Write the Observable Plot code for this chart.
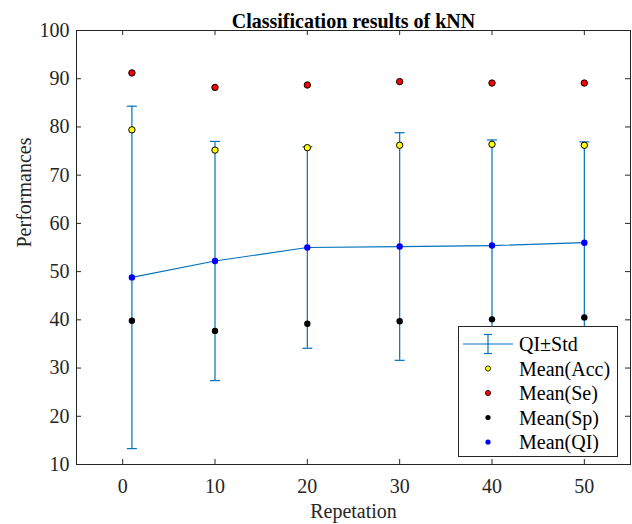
<!DOCTYPE html>
<html><head><meta charset="utf-8">
<script src="https://cdn.jsdelivr.net/npm/d3@7"></script>
<script src="https://cdn.jsdelivr.net/npm/@observablehq/plot@0.6"></script>
<style>
body{margin:0;background:#fff;}
#chart{position:relative;width:632px;height:524px;font-family:"Liberation Serif","Times New Roman",serif;}
#legend{position:absolute;left:458px;top:326px;}
</style>
</head><body><div id="chart"></div>
<script>
const repetitions = [1, 10, 20, 30, 40, 50];
const meanQI  = [48.8, 52.2, 55.0, 55.2, 55.4, 56.0];
const stdQI   = [35.5, 24.8, 20.9, 23.6, 21.9, 20.9];
const meanAcc = [79.4, 75.2, 75.7, 76.2, 76.4, 76.2];
const meanSe  = [91.2, 88.2, 88.7, 89.4, 89.1, 89.1];
const meanSp  = [39.8, 37.7, 39.2, 39.7, 40.1, 40.5];
const xTicks = [0, 10, 20, 30, 40, 50];
const yTicks = [10, 20, 30, 40, 50, 60, 70, 80, 90, 100];
const titleText = "Classification results of kNN";
const xLabel = "Repetation";
const yLabel = "Performances";
const legendLabels = ["QI\u00B1Std", "Mean(Acc)", "Mean(Se)", "Mean(Sp)", "Mean(QI)"];

const blue = "#0072BD";
const axisColor = "#262626";
const W = 632, H = 524, mL = 76, mR = 2, mT = 30, mB = 60;
const fw = W - mL - mR, fh = H - mT - mB;

const rows = repetitions.map((x, i) => ({
  x, qi: meanQI[i], std: stdQI[i], acc: meanAcc[i], se: meanSe[i], sp: meanSp[i]
}));

const capSymbol = {draw(ctx, size) { const r = Math.sqrt(size / Math.PI); ctx.moveTo(-r, 0); ctx.lineTo(r, 0); }};

const plot = Plot.plot({
  width: W, height: H,
  marginLeft: mL, marginRight: mR, marginTop: mT, marginBottom: mB,
  style: {fontFamily: '"Liberation Serif","Times New Roman",serif', fontSize: "20px", color: axisColor, background: "white"},
  x: {domain: [-5, 55]},
  y: {domain: [10, 100]},
  marks: [
    Plot.axisX({ticks: xTicks, tickSize: 0, tickPadding: 14, label: null, fontSize: 20}),
    Plot.axisY({ticks: yTicks, tickSize: 0, tickPadding: 7, label: null, fontSize: 20}),
    Plot.tickX(xTicks, {x: d => d, insetTop: fh - 5, stroke: axisColor}),
    Plot.tickX(xTicks, {x: d => d, insetBottom: fh - 5, stroke: axisColor}),
    Plot.tickY(yTicks, {y: d => d, insetRight: fw - 5, stroke: axisColor}),
    Plot.tickY(yTicks, {y: d => d, insetLeft: fw - 5, stroke: axisColor}),
    Plot.frame({stroke: axisColor}),
    Plot.ruleX(rows, {x: "x", y1: d => d.qi - d.std, y2: d => d.qi + d.std, stroke: blue, strokeWidth: 1.2}),
    Plot.dot(rows, {x: "x", y: d => d.qi - d.std, symbol: capSymbol, r: 5, stroke: blue, fill: "none", strokeWidth: 1.2}),
    Plot.dot(rows, {x: "x", y: d => d.qi + d.std, symbol: capSymbol, r: 5, stroke: blue, fill: "none", strokeWidth: 1.2}),
    Plot.line(rows, {x: "x", y: "qi", stroke: blue, strokeWidth: 1.2}),
    Plot.dot(rows, {x: "x", y: "acc", r: 3.2, fill: "#ffff00", stroke: "#000", strokeWidth: 1}),
    Plot.dot(rows, {x: "x", y: "se", r: 3.2, fill: "#ff0000", stroke: "#000", strokeWidth: 1}),
    Plot.dot(rows, {x: "x", y: "sp", r: 3.2, fill: "#000"}),
    Plot.dot(rows, {x: "x", y: "qi", r: 3.2, fill: "#0000ff"}),
    Plot.text([titleText], {text: d => d, frameAnchor: "top", dy: -17, fontWeight: "bold", fontSize: 20, fill: "#000"}),
    Plot.text([xLabel], {text: d => d, frameAnchor: "bottom", dy: 39, lineAnchor: "top", fontSize: 20, fill: axisColor}),
    Plot.text([yLabel], {text: d => d, frameAnchor: "left", dx: -52, rotate: -90, fontSize: 20, fill: axisColor})
  ]
});
document.getElementById("chart").appendChild(plot);

// Legend
const legendItems = [
  {label: legendLabels[0], type: "errbar"},
  {label: legendLabels[1], fill: "#ffff00", stroke: "#000"},
  {label: legendLabels[2], fill: "#ff0000", stroke: "#000"},
  {label: legendLabels[3], fill: "#000", stroke: "none"},
  {label: legendLabels[4], fill: "#0000ff", stroke: "none"}
];
const lw = 159, lh = 130;
const svg = d3.create("svg").attr("id", "legend").attr("width", lw + 1).attr("height", lh + 1);
svg.append("rect").attr("x", 0.5).attr("y", 0.5).attr("width", lw).attr("height", lh)
  .attr("fill", "white").attr("stroke", axisColor);
legendItems.forEach((it, i) => {
  const cy = 18 + i * 24.5;
  const g = svg.append("g").attr("transform", `translate(0,${cy})`);
  if (it.type === "errbar") {
    g.append("line").attr("x1", 5).attr("x2", 55).attr("y1", 0).attr("y2", 0).attr("stroke", blue).attr("stroke-width", 1.2);
    g.append("line").attr("x1", 30).attr("x2", 30).attr("y1", -9.5).attr("y2", 9.5).attr("stroke", blue).attr("stroke-width", 1.2);
    g.append("line").attr("x1", 26).attr("x2", 34).attr("y1", -9.5).attr("y2", -9.5).attr("stroke", blue).attr("stroke-width", 1.2);
    g.append("line").attr("x1", 26).attr("x2", 34).attr("y1", 9.5).attr("y2", 9.5).attr("stroke", blue).attr("stroke-width", 1.2);
  } else {
    g.append("circle").attr("cx", 30).attr("cy", 0).attr("r", 2.6).attr("fill", it.fill).attr("stroke", it.stroke).attr("stroke-width", 0.8);
  }
  g.append("text").attr("x", 61).attr("y", 0).attr("dy", "0.35em")
    .attr("font-family", '"Liberation Serif","Times New Roman",serif').attr("font-size", 20).attr("fill", "#000")
    .text(it.label);
});
document.getElementById("chart").appendChild(svg.node());
</script>
</body></html>
